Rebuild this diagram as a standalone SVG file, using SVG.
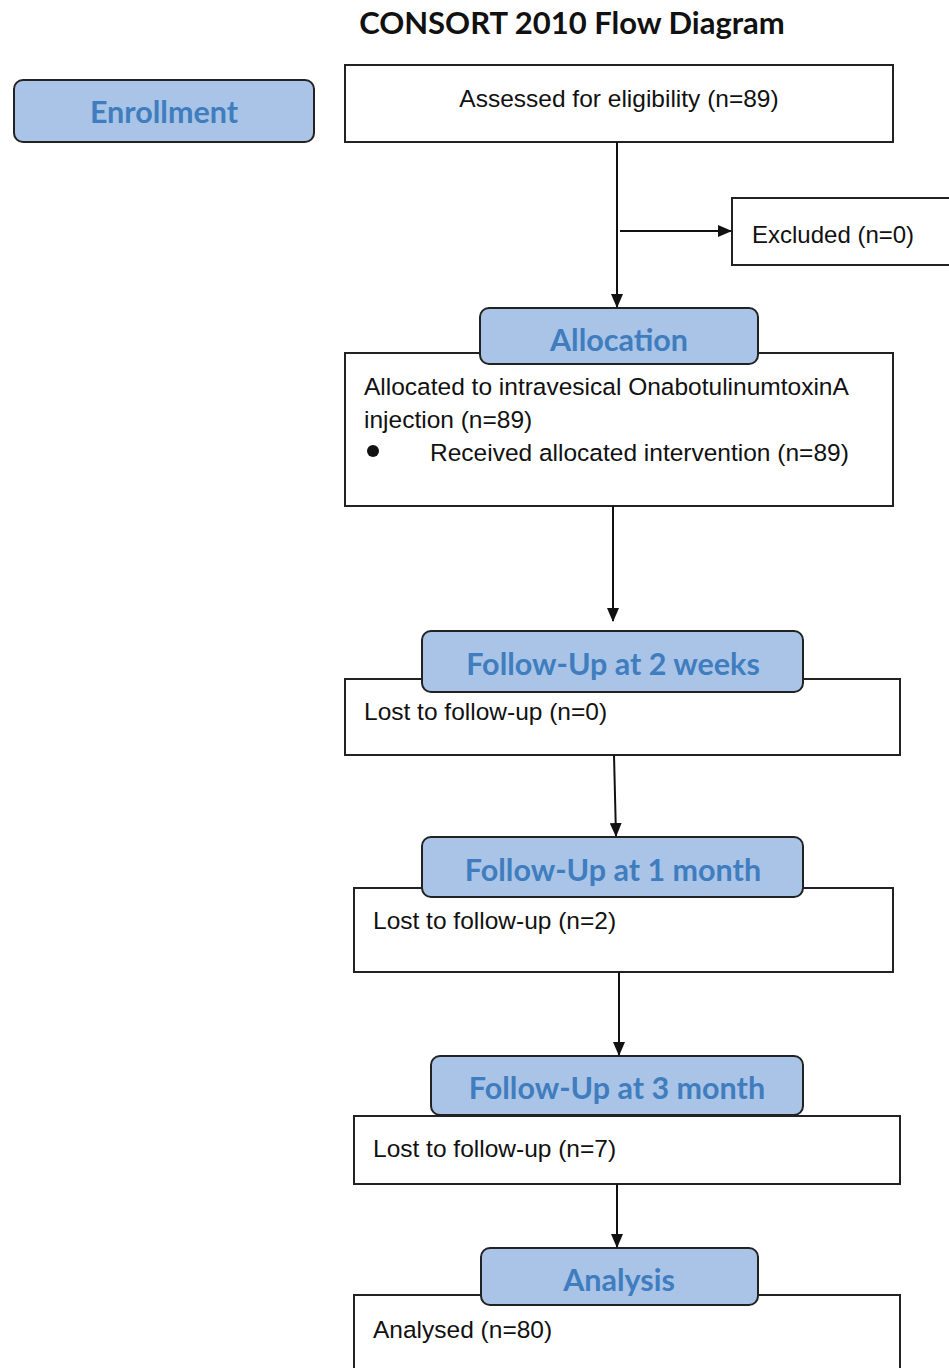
<svg xmlns="http://www.w3.org/2000/svg" width="949" height="1368" viewBox="0 0 949 1368">
<defs>
<marker id="ah" markerWidth="14" markerHeight="12" refX="13" refY="6" orient="auto" markerUnits="userSpaceOnUse">
<path d="M0,0 L14,6 L0,12 Z" fill="#111"/>
</marker>
<style>
.title{font-family:Lato,"Open Sans",sans-serif;font-weight:bold;font-size:31px;fill:#111;text-anchor:middle}
.lab{fill:#a9c4e6;stroke:#222;stroke-width:2}
.labt{font-family:Lato,"Open Sans",sans-serif;font-weight:bold;font-size:30.5px;fill:#3f7dbf;text-anchor:middle}
.box{fill:#fff;stroke:#222;stroke-width:2}
.t{font-family:"Liberation Sans",Arial,sans-serif;font-size:24.5px;fill:#111}
.con{stroke:#111;stroke-width:2;fill:none}
</style>
</defs>
<rect width="949" height="1368" fill="#fff"/>
<text class="title" x="572" y="34">CONSORT 2010 Flow Diagram</text>

<g id="enrollment">
<rect class="lab" x="14" y="80" width="300" height="62" rx="9"/>
<text class="labt" x="164" y="123">Enrollment</text>
</g>

<g id="assessed">
<rect class="box" x="345" y="65" width="548" height="77"/>
<text class="t" x="619" y="107" text-anchor="middle">Assessed for eligibility (n=89)</text>
</g>

<g id="excluded">
<rect class="box" x="732" y="198" width="218" height="67"/>
<text class="t" x="752" y="243" style="font-size:24px">Excluded (n=0)</text>
</g>

<g id="allocation">
<rect class="box" x="345" y="353" width="548" height="153"/>
<rect class="lab" x="480" y="308" width="278" height="56" rx="9"/>
<text class="labt" x="619" y="351">Allocation</text>
<text class="t" x="364" y="395">Allocated to intravesical OnabotulinumtoxinA</text>
<text class="t" x="364" y="428">injection (n=89)</text>
<circle cx="373" cy="451" r="6" fill="#111"/>
<text class="t" x="430" y="461">Received allocated intervention (n=89)</text>
</g>

<g id="followup2w">
<rect class="box" x="345" y="679" width="555" height="76"/>
<rect class="lab" x="422" y="631" width="381" height="61" rx="9"/>
<text class="labt" x="613" y="675">Follow-Up at 2 weeks</text>
<text class="t" x="364" y="720">Lost to follow-up (n=0)</text>
</g>

<g id="followup1m">
<rect class="box" x="354" y="888" width="539" height="84"/>
<rect class="lab" x="422" y="837" width="381" height="60" rx="9"/>
<text class="labt" x="613" y="881">Follow-Up at 1 month</text>
<text class="t" x="373" y="929">Lost to follow-up (n=2)</text>
</g>

<g id="followup3m">
<rect class="box" x="354" y="1116" width="546" height="68"/>
<rect class="lab" x="431" y="1056" width="372" height="59" rx="9"/>
<text class="labt" x="617" y="1099">Follow-Up at 3 month</text>
<text class="t" x="373" y="1157">Lost to follow-up (n=7)</text>
</g>

<g id="analysis">
<rect class="box" x="354" y="1295" width="546" height="90"/>
<rect class="lab" x="481" y="1248" width="277" height="57" rx="9"/>
<text class="labt" x="619" y="1291">Analysis</text>
<text class="t" x="373" y="1338">Analysed (n=80)</text>
</g>

<g id="connectors">
<line class="con" x1="617" y1="142" x2="617" y2="307" marker-end="url(#ah)"/>
<line class="con" x1="620" y1="231" x2="731" y2="231" marker-end="url(#ah)"/>
<line class="con" x1="613" y1="506" x2="613" y2="621" marker-end="url(#ah)"/>
<line class="con" x1="614" y1="755" x2="616" y2="836" marker-end="url(#ah)"/>
<line class="con" x1="619" y1="972" x2="619" y2="1055" marker-end="url(#ah)"/>
<line class="con" x1="617" y1="1184" x2="617" y2="1247" marker-end="url(#ah)"/>
</g>
</svg>
